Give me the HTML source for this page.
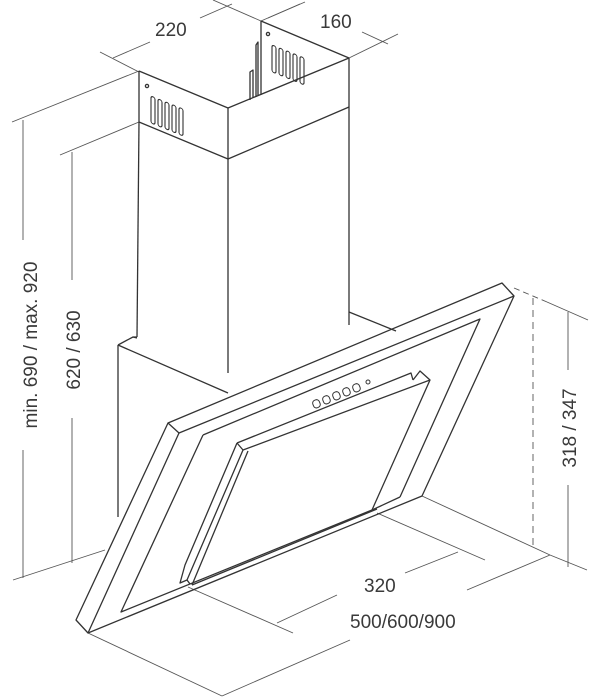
<!DOCTYPE html>
<html><head><meta charset="utf-8"><style>
html,body{margin:0;padding:0;background:#fff;}
svg{display:block}
text{font-family:"Liberation Sans",sans-serif;font-size:19px;fill:#3a3a3a}
</style></head><body>
<svg width="605" height="700" viewBox="0 0 605 700" xmlns="http://www.w3.org/2000/svg">
<g fill="none" stroke="#555" stroke-width="0.9">
<!-- 220 -->
<line x1="100" y1="52" x2="139" y2="72"/>
<line x1="213" y1="0" x2="261" y2="21"/>
<line x1="113" y1="58" x2="150" y2="42"/>
<line x1="200" y1="18" x2="232" y2="4"/>
<!-- 160 -->
<line x1="261" y1="21" x2="300" y2="4"/>
<line x1="349" y1="58" x2="398" y2="34"/>
<line x1="268" y1="18" x2="305" y2="2"/>
<line x1="362" y1="32" x2="388" y2="44"/>
<!-- left dims -->
<line x1="12" y1="122" x2="139" y2="71"/>
<line x1="23" y1="120" x2="23" y2="240"/>
<line x1="23" y1="450" x2="23" y2="578"/>
<line x1="60" y1="155" x2="139" y2="122"/>
<line x1="72" y1="152" x2="72" y2="280"/>
<line x1="72" y1="418" x2="72" y2="563"/>
<line x1="13" y1="580" x2="105" y2="550"/>
<!-- right dims -->
<line x1="514" y1="288" x2="547" y2="302" stroke-dasharray="6,4"/>
<line x1="533" y1="298" x2="533" y2="545" stroke-dasharray="7,5"/>
<line x1="547" y1="302" x2="588" y2="320"/>
<line x1="568" y1="312" x2="568" y2="370"/>
<line x1="568" y1="485" x2="568" y2="567"/>
<line x1="422" y1="496" x2="550" y2="555"/>
<line x1="550" y1="555" x2="587" y2="570"/>
<!-- 320 -->
<line x1="377" y1="513" x2="485" y2="560"/>
<line x1="188" y1="587" x2="293" y2="633"/>
<line x1="458" y1="552" x2="405" y2="573"/>
<line x1="337" y1="595" x2="277" y2="623"/>
<!-- 500 -->
<line x1="88" y1="633" x2="222" y2="696"/>
<line x1="550" y1="555" x2="467" y2="590"/>
<line x1="350" y1="640" x2="222" y2="696"/>
</g>
<g fill="none" stroke="#333" stroke-width="1.3" stroke-linejoin="round">
<!-- chimney -->
<polyline points="139,71 228,108 349,58"/>
<polyline points="139,71 139,122 228,159 349,107"/>
<line x1="261" y1="21" x2="349" y2="58"/>
<line x1="261" y1="21" x2="261" y2="95"/>
<line x1="228" y1="108" x2="228" y2="373"/>
<line x1="349" y1="58" x2="349" y2="325"/>
<line x1="139" y1="122" x2="137" y2="337"/>
<polyline points="256,97 256,45 258,42 258,95"/>
<polyline points="250,100 250,72 253,70 253,98"/>
<circle cx="147" cy="86" r="1.6"/>
<circle cx="268" cy="34" r="1.6"/>
<g stroke-width="1.1">
<rect x="151" y="96" width="4" height="27" rx="2" transform="skewY(22) translate(0,-61)"/>
<rect x="158" y="99" width="4" height="27" rx="2" transform="skewY(22) translate(0,-64)"/>
<rect x="165" y="102" width="4" height="27" rx="2" transform="skewY(22) translate(0,-67)"/>
<rect x="172" y="105" width="4" height="27" rx="2" transform="skewY(22) translate(0,-70)"/>
<rect x="179" y="108" width="4" height="27" rx="2" transform="skewY(22) translate(0,-73)"/>
<rect x="272" y="45" width="4" height="27" rx="2" transform="skewY(22) translate(0,-110)"/>
<rect x="279" y="48" width="4" height="27" rx="2" transform="skewY(22) translate(0,-113)"/>
<rect x="286" y="51" width="4" height="27" rx="2" transform="skewY(22) translate(0,-116)"/>
<rect x="293" y="54" width="4" height="27" rx="2" transform="skewY(22) translate(0,-119)"/>
<rect x="300" y="57" width="4" height="27" rx="2" transform="skewY(22) translate(0,-122)"/>
</g>
<!-- lower box -->
<polyline points="118,345 133,337 137,337"/>
<polyline points="118,345 228,393"/>
<line x1="133" y1="337" x2="137" y2="338"/>
<line x1="118" y1="345" x2="118" y2="517"/>
<polyline points="349,312 396,331"/>
<!-- panel outer -->
<polygon points="168,423 502,283 514,296 422,496 88,633 76,620"/>
<polyline points="168,423 179,433 514,296"/>
<line x1="179" y1="433" x2="88" y2="633"/>
<!-- inner frame -->
<polyline points="203,435 480,319 400,497"/>
<polyline points="203,435 121,612 372,510"/>
<line x1="400" y1="497" x2="372" y2="510"/>
<!-- glass -->
<polyline points="237,443 243,450 430,380"/>
<polyline points="237,443 411,373 413,380"/>
<polyline points="413,380 420,371 430,380 372,510"/>
<polyline points="243,450 187,580 180,583 185,565 237,443"/>
<line x1="248" y1="451" x2="192" y2="585"/>
<line x1="192" y1="585" x2="377" y2="509"/>
<line x1="187" y1="580" x2="190" y2="584"/>
</g>
<!-- buttons -->
<g fill="none" stroke="#333" stroke-width="1">
<rect x="313" y="400" width="7" height="8" rx="3" transform="rotate(-22 316 404)"/>
<rect x="323" y="396" width="7" height="8" rx="3" transform="rotate(-22 326 400)"/>
<rect x="333" y="392" width="7" height="8" rx="3" transform="rotate(-22 336 396)"/>
<rect x="343" y="388" width="7" height="8" rx="3" transform="rotate(-22 346 392)"/>
<rect x="353" y="384" width="7" height="8" rx="3" transform="rotate(-22 356 388)"/>
<circle cx="368" cy="382" r="2"/>
</g>
<text x="155" y="36">220</text>
<text x="320" y="28">160</text>
<text x="364" y="592">320</text>
<text x="350" y="628">500/600/900</text>
<text transform="translate(37,345) rotate(-90)" text-anchor="middle">min. 690 / max. 920</text>
<text transform="translate(80,350) rotate(-90)" text-anchor="middle">620 / 630</text>
<text transform="translate(576,428) rotate(-90)" text-anchor="middle">318 / 347</text>
</svg>
</body></html>
